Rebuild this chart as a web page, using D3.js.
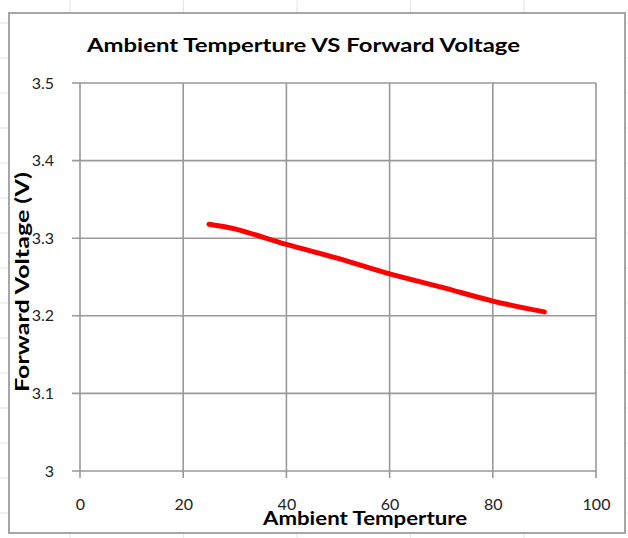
<!DOCTYPE html>
<html>
<head>
<meta charset="utf-8">
<script src="https://cdn.jsdelivr.net/npm/d3@7/dist/d3.min.js"></script>
<style>
  html, body { margin: 0; padding: 0; background: #fff; }
  svg { display: block; }
  text { font-family: Lato, "Open Sans", "DejaVu Sans", sans-serif; }
</style>
</head>
<body>
<svg id="chart" width="628" height="538"></svg>
<script>
// ---- data ----
const temperature = [25, 30, 40, 50, 60, 70, 80, 90];
const forwardVoltage = [3.318, 3.312, 3.292, 3.274, 3.254, 3.237, 3.219, 3.205];
const xTicks = [0, 20, 40, 60, 80, 100];
const yTicks = [3, 3.1, 3.2, 3.3, 3.4, 3.5];
const yTickLabels = ["3", "3.1", "3.2", "3.3", "3.4", "3.5"];
const chartTitle = "Ambient Temperture VS Forward Voltage";
const xTitle = "Ambient Temperture";
const yTitle = "Forward Voltage (V)";

(function () {
const svg = d3.select("#chart");
const W = 628, H = 538;

// faint spreadsheet cells behind the chart object
const sheetCols = [70, 183.5, 297, 410.5, 524];
const sheetRows = [23, 58, 93, 128, 163, 198, 233, 268, 303, 338, 373, 408, 443, 478, 513];
svg.append("g").selectAll("line").data(sheetCols).join("line")
  .attr("x1", d => d).attr("x2", d => d).attr("y1", 0).attr("y2", H)
  .attr("stroke", "#dfe3ec").attr("stroke-width", 1);
svg.append("g").selectAll("line").data(sheetRows).join("line")
  .attr("x1", 0).attr("x2", W).attr("y1", d => d).attr("y2", d => d)
  .attr("stroke", "#dfe3ec").attr("stroke-width", 1);

// chart object frame
svg.append("rect")
  .attr("x", 9).attr("y", 13).attr("width", 616).attr("height", 520)
  .attr("fill", "#fff").attr("stroke", "#a6a6a6").attr("stroke-width", 2);

const pLeft = 80, pRight = 596, pTop = 83, pBottom = 471;
const x = d3.scaleLinear().domain([0, 100]).range([pLeft, pRight]);
const y = d3.scaleLinear().domain([3, 3.5]).range([pBottom, pTop]);

// gridlines
const grid = svg.append("g");
grid.selectAll("line.v").data(xTicks).join("line")
  .attr("class", "v")
  .attr("x1", d => x(d)).attr("x2", d => x(d))
  .attr("y1", pTop).attr("y2", pBottom + 7)
  .attr("stroke", "#999").attr("stroke-width", 1.6);
grid.selectAll("line.h").data(yTicks).join("line")
  .attr("class", "h")
  .attr("x1", pLeft - 8).attr("x2", pRight)
  .attr("y1", d => y(d)).attr("y2", d => y(d))
  .attr("stroke", "#999").attr("stroke-width", 1.6);

// axes labels via d3 axes (lines hidden, gridlines draw ticks)
const xAxis = svg.append("g")
  .attr("transform", `translate(0,${pBottom})`)
  .call(d3.axisBottom(x).tickValues(xTicks).tickSize(0).tickPadding(28).tickFormat(d3.format("d")));
xAxis.select(".domain").remove();
xAxis.selectAll("text").attr("font-size", 16).attr("fill", "#222")
  .style("font-family", "Lato, 'Open Sans', sans-serif");

const yAxis = svg.append("g")
  .attr("transform", `translate(${pLeft},0)`)
  .call(d3.axisLeft(y).tickValues(yTicks).tickSize(0).tickPadding(26)
    .tickFormat((d, i) => yTickLabels[i]));
yAxis.select(".domain").remove();
yAxis.selectAll("text").attr("font-size", 16).attr("fill", "#222")
  .style("font-family", "Lato, 'Open Sans', sans-serif");

// data line
const line = d3.line()
  .x((d, i) => x(temperature[i]))
  .y(d => y(d))
  .curve(d3.curveCatmullRom.alpha(0.5));
svg.append("path")
  .datum(forwardVoltage)
  .attr("d", line)
  .attr("fill", "none")
  .attr("stroke", "#ff0000")
  .attr("stroke-width", 5)
  .attr("stroke-linecap", "round");

// titles
svg.append("text")
  .attr("x", 87).attr("y", 52)
  .attr("font-size", 19).attr("font-weight", "bold").attr("fill", "#000")
  .attr("textLength", 433).attr("lengthAdjust", "spacingAndGlyphs")
  .text(chartTitle);

svg.append("text")
  .attr("x", 263).attr("y", 525)
  .attr("font-size", 19).attr("font-weight", "bold").attr("fill", "#000")
  .attr("textLength", 204).attr("lengthAdjust", "spacingAndGlyphs")
  .text(xTitle);

svg.append("text")
  .attr("transform", "translate(29,392) rotate(-90)")
  .attr("font-size", 19).attr("font-weight", "bold").attr("fill", "#000")
  .attr("textLength", 220).attr("lengthAdjust", "spacingAndGlyphs")
  .text(yTitle);
})();
</script>
</body>
</html>
